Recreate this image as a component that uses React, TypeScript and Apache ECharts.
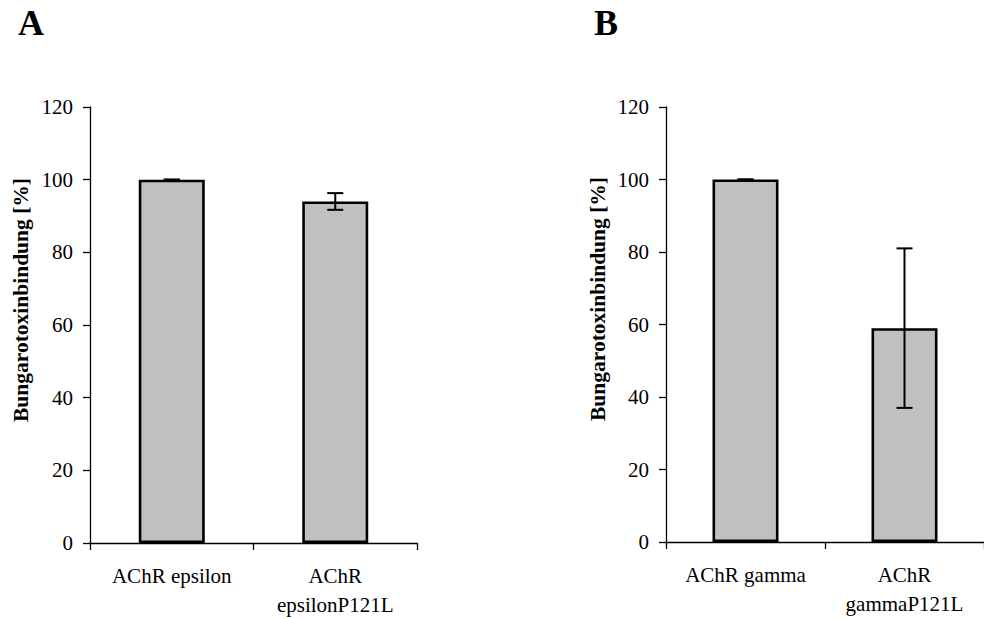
import React, { useEffect, useRef } from "react";
import * as echarts from "echarts";

const categoriesA = ["AChR epsilon", "AChR\nepsilonP121L"];
const valuesA = [100, 94];
const errorsA = [0, 2.3];
const categoriesB = ["AChR gamma", "AChR\ngammaP121L"];
const valuesB = [100, 59];
const errorsB = [0, 22];
const yTicks = [0, 20, 40, 60, 80, 100, 120];
const yName = "Bungarotoxinbindung [%]";
const panelLabels = ["A", "B"];

const FONT = "'Liberation Serif', 'Times New Roman', serif";

export default function App() {
  const ref = useRef<HTMLDivElement>(null);
  useEffect(() => {
    if (!ref.current) return;
    const chart = echarts.init(ref.current, undefined, { renderer: "svg" });

    const errData = (vals: number[], errs: number[]) =>
      vals.map((v, i) => [i, v - errs[i], v + errs[i]]);

    const renderErr = (params: any, api: any) => {
      const x = api.value(0);
      const lo = api.coord([x, api.value(1)]);
      const hi = api.coord([x, api.value(2)]);
      const half = 8;
      const style = { stroke: "#000", lineWidth: 2 };
      return {
        type: "group",
        children: [
          { type: "line", shape: { x1: lo[0], y1: lo[1], x2: hi[0], y2: hi[1] }, style },
          { type: "line", shape: { x1: hi[0] - half, y1: hi[1], x2: hi[0] + half, y2: hi[1] }, style },
          { type: "line", shape: { x1: lo[0] - half, y1: lo[1], x2: lo[0] + half, y2: lo[1] }, style },
        ],
      };
    };

    const axisLine = { show: true, lineStyle: { color: "#000", width: 1.3 } };
    const axisTick = { show: true, inside: false, length: 7, lineStyle: { color: "#000", width: 1.3 } };
    const labelStyle = { color: "#000", fontFamily: FONT, fontSize: 21 };

    const makeX = (gridIndex: number, cats: string[]) => ({
      type: "category",
      gridIndex,
      data: cats,
      boundaryGap: true,
      axisLine,
      axisTick: { ...axisTick, alignWithLabel: false },
      axisLabel: { ...labelStyle, margin: 18, lineHeight: 29, interval: 0 },
      splitLine: { show: false },
    });
    const makeY = (gridIndex: number) => ({
      type: "value",
      gridIndex,
      min: yTicks[0],
      max: yTicks[yTicks.length - 1],
      interval: 20,
      axisLine,
      axisTick,
      axisLabel: { ...labelStyle, margin: 17 },
      splitLine: { show: false },
    });

    const barStyle = { color: "#c0c0c0", borderColor: "#000", borderWidth: 2.6 };

    chart.setOption({
      animation: false,
      backgroundColor: "#fff",
      grid: [
        { left: 90, right: 567, top: 107, bottom: 72 },
        { left: 666, right: -10, top: 107, bottom: 77 },
      ],
      xAxis: [makeX(0, categoriesA), makeX(1, categoriesB)],
      yAxis: [makeY(0), makeY(1)],
      series: [
        { type: "bar", xAxisIndex: 0, yAxisIndex: 0, data: valuesA, barWidth: 66, itemStyle: barStyle },
        { type: "custom", xAxisIndex: 0, yAxisIndex: 0, data: errData(valuesA, errorsA), renderItem: renderErr, z: 5 },
        { type: "bar", xAxisIndex: 1, yAxisIndex: 1, data: valuesB, barWidth: 66, itemStyle: barStyle },
        { type: "custom", xAxisIndex: 1, yAxisIndex: 1, data: errData(valuesB, errorsB), renderItem: renderErr, z: 5 },
      ],
      graphic: [
        { type: "text", left: 18, top: 5, style: { text: panelLabels[0], font: `bold 36px ${FONT}`, fill: "#000" } },
        { type: "text", left: 594, top: 5, style: { text: panelLabels[1], font: `bold 36px ${FONT}`, fill: "#000" } },
        { type: "text", x: 21, y: 300, rotation: Math.PI / 2, style: { text: yName, font: `bold 21.5px ${FONT}`, fill: "#000", textAlign: "center", textVerticalAlign: "middle" } },
        { type: "text", x: 598, y: 299, rotation: Math.PI / 2, style: { text: yName, font: `bold 21.5px ${FONT}`, fill: "#000", textAlign: "center", textVerticalAlign: "middle" } },
      ],
    });
    return () => chart.dispose();
  }, []);
  return <div ref={ref} style={{ width: 984, height: 619, position: "absolute", left: 0, top: 0 }} />;
}
